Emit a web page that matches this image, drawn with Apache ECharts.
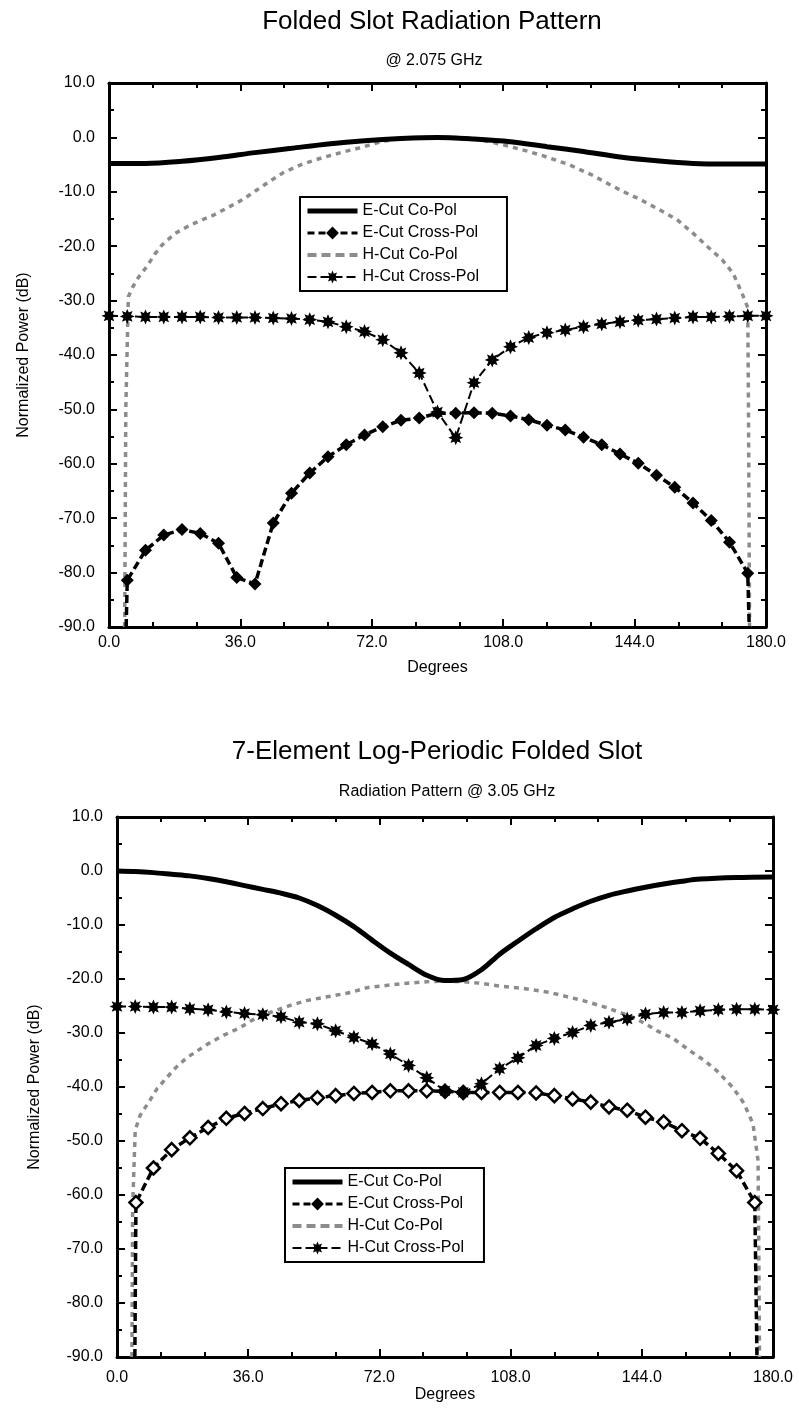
<!DOCTYPE html>
<html>
<head>
<meta charset="utf-8">
<title>Folded Slot Radiation Pattern</title>
<script src="https://cdn.jsdelivr.net/npm/echarts@6/dist/echarts.min.js"></script>
<style>
  html, body { margin: 0; padding: 0; background: #fff; }
  #main { width: 799px; height: 1408px; }
</style>
</head>
<body>
<div id="main"></div>
<script>
var seriesNames = ['E-Cut Co-Pol', 'E-Cut Cross-Pol', 'H-Cut Co-Pol', 'H-Cut Cross-Pol'];
var degTicks = [0, 36, 72, 108, 144, 180];
var dbTicks = [-90, -80, -70, -60, -50, -40, -30, -20, -10, 0, 10];

// top chart, @ 2.075 GHz  ([degrees, dB])
var eCo1 = [[0,-4.8],[10,-4.8],[20,-4.4],[30,-3.7],[40,-2.8],[50,-2],[60,-1.2],[70,-0.6],[80,-0.2],[90,0],
  [100,-0.3],[110,-0.8],[120,-1.7],[130,-2.6],[140,-3.6],[150,-4.3],[160,-4.8],[170,-4.9],[180,-4.9]];
var eX1 = [[4.7,-90],[5,-81.4],[10,-75.9],[15,-73.1],[20,-72.1],[25,-72.8],[30,-74.6],[35,-80.9],[40,-82.1],
  [45,-70.9],[50,-65.4],[55,-61.7],[60,-58.7],[65,-56.5],[70,-54.7],[75,-53.2],[80,-52],[85,-51.6],[90,-50.7],
  [95,-50.7],[100,-50.6],[105,-50.7],[110,-51.2],[115,-51.9],[120,-52.9],[125,-53.8],[130,-55.1],[135,-56.5],
  [140,-58.2],[145,-59.9],[150,-62.1],[155,-64.3],[160,-67.2],[165,-70.4],[170,-74.4],[175,-80.1],[175.4,-90]];
var hCo1 = [[4.3,-90],[4.6,-50],[5.3,-29.3],[6.5,-27.5],[8,-25.8],[10.4,-23.7],[12.5,-21.5],[14.5,-19.8],
  [18,-17.7],[22,-16.2],[25,-15.3],[28.6,-14.3],[32,-13.1],[36.7,-11.4],[40,-9.9],[44,-8.1],[47.7,-6.5],[53,-4.9],
  [58.6,-3.7],[64,-2.7],[68.8,-1.9],[74,-0.9],[79,-0.2],[85,0],[90,0],[95,0],[100,-0.3],[105,-0.9],[110,-1.7],
  [115,-2.6],[119,-3.4],[126,-5],[132.6,-7],[137,-8.6],[141,-10],[145.5,-11.4],[150,-13],[155.6,-15.1],
  [160,-17.6],[164,-20.1],[168,-22.5],[171,-25],[173.4,-28.6],[175,-31.3],[175.2,-50],[175.5,-90]];
var hX1 = [[0,-32.8],[5,-32.9],[10,-33],[15,-33],[20,-33],[25,-33],[30,-33.1],[35,-33.1],[40,-33.1],[45,-33.2],
  [50,-33.3],[55,-33.5],[60,-33.9],[65,-34.8],[70,-35.7],[75,-37.2],[80,-39.6],[85,-43.3],[90,-50.5],[95,-55.2],
  [100,-45.1],[105,-40.9],[110,-38.5],[115,-36.8],[120,-35.9],[125,-35.4],[130,-34.8],[135,-34.3],[140,-33.9],
  [145,-33.6],[150,-33.4],[155,-33.2],[160,-33],[165,-33],[170,-32.9],[175,-32.8],[180,-32.8]];

// bottom chart, Radiation Pattern @ 3.05 GHz
var eCo2 = [[0,0],[5,-0.1],[10,-0.3],[15,-0.6],[20,-0.9],[25,-1.4],[30,-2],[35,-2.7],[40,-3.4],[45,-4.1],
  [50,-5],[55,-6.4],[60,-8.2],[65,-10.3],[70,-12.8],[75,-15.2],[80,-17.3],[85,-19.3],[90,-20.3],[95,-20.1],
  [100,-18.3],[105,-15.4],[110,-13],[115,-10.7],[120,-8.6],[125,-7],[130,-5.6],[135,-4.5],[140,-3.7],
  [145,-3],[150,-2.4],[155,-1.9],[160,-1.5],[170,-1.2],[180,-1.1]];
var eX2 = [[4.9,-90],[5.2,-61.4],[10,-55],[15,-51.6],[20,-49.4],[25,-47.5],[30,-45.8],[35,-44.9],[40,-44],
  [45,-43.1],[50,-42.5],[55,-42],[60,-41.6],[65,-41.2],[70,-41],[75,-40.7],[80,-40.7],[85,-40.7],[90,-40.8],
  [95,-41],[100,-41],[105,-41],[110,-41],[115,-41.1],[120,-41.6],[125,-42.2],[130,-42.8],[135,-43.7],
  [140,-44.3],[145,-45.6],[150,-46.5],[155,-48.1],[160,-49.5],[165,-52.3],[170,-55.5],[175,-61.4],[175.6,-90]];
var hCo2 = [[4.1,-90],[4.3,-62],[5,-48],[6.3,-45.3],[9,-42.5],[11,-40.3],[13.6,-38.3],[16,-36.5],[19.1,-34.6],
  [25,-32],[29,-30.5],[33.8,-29],[38.4,-27.1],[42,-26.2],[47.5,-24.9],[52,-24],[59.3,-23.1],[64,-22.5],
  [68.6,-21.6],[77.7,-20.9],[85,-20.5],[90,-20.4],[95,-20.5],[100,-20.8],[105,-21.3],[112,-21.8],[118.8,-22.5],
  [123,-23.2],[127.9,-24],[134.4,-25.3],[141.6,-27.1],[145,-28.3],[148.2,-29.6],[152.6,-31],[157.2,-33.3],
  [161,-35],[164.6,-37],[169,-40.1],[172,-43],[174.5,-46.8],[175.9,-53.6],[176.1,-70],[176.3,-90]];
var hX2 = [[0,-25.1],[5,-25.1],[10,-25.2],[15,-25.2],[20,-25.5],[25,-25.7],[30,-26.1],[35,-26.4],[40,-26.6],
  [45,-27],[50,-28],[55,-28.3],[60,-29.6],[65,-30.8],[70,-32],[75,-33.9],[80,-36],[85,-38.3],[90,-40.7],
  [95,-41],[100,-39.4],[105,-36.6],[110,-34.6],[115,-32.3],[120,-31],[125,-29.9],[130,-28.6],[135,-28],
  [140,-27.4],[145,-26.5],[150,-26.2],[155,-26.2],[160,-25.9],[165,-25.7],[170,-25.6],[175,-25.6],[180,-25.7]];

var font = '"Liberation Sans", Arial, sans-serif';
var hGray = '#8c8c8c';

// eight point star used for the H-Cut Cross-Pol marks
function starPath() {
  var pts = [];
  for (var i = 0; i < 16; i++) {
    var a = i * Math.PI / 8;
    var r = i % 2 ? 0.55 : 1;
    pts.push((50 + 50 * r * Math.sin(a)).toFixed(1) + ' ' + (50 - 50 * r * Math.cos(a)).toFixed(1));
  }
  return 'path://M' + pts.join(' L') + ' Z';
}
var star = starPath();

// no mark where a trace runs off the bottom of the plot
function pts(list) {
  return list.map(function (p) {
    return p[1] <= -89 ? { value: p, symbol: 'none' } : p;
  });
}

function xAxisFor(grid, top) {
  return {
    type: 'value', gridIndex: grid, position: top ? 'top' : 'bottom',
    min: degTicks[0], max: degTicks[degTicks.length - 1], interval: degTicks[1] - degTicks[0],
    name: top ? '' : 'Degrees', nameLocation: 'middle', nameGap: grid === 0 ? 33 : 28,
    nameTextStyle: { fontFamily: font, fontSize: 16, color: '#000' },
    axisLine: { show: true, onZero: false, lineStyle: { color: '#000', width: 3 } },
    axisTick: { show: true, inside: true, length: 8, lineStyle: { color: '#000', width: 2 } },
    minorTick: { show: true, splitNumber: 3, length: 5, lineStyle: { color: '#000', width: 2 } },
    axisLabel: { show: !top, margin: grid === 0 ? 8 : 13, fontFamily: font, fontSize: 16, color: '#000',
      formatter: function (v) { return v.toFixed(1); } },
    splitLine: { show: false }
  };
}

function yAxisFor(grid, right) {
  return {
    type: 'value', gridIndex: grid, position: right ? 'right' : 'left',
    min: dbTicks[0], max: dbTicks[dbTicks.length - 1], interval: dbTicks[1] - dbTicks[0],
    name: right ? '' : 'Normalized Power (dB)', nameLocation: 'middle', nameGap: grid === 0 ? 77 : 74,
    nameTextStyle: { fontFamily: font, fontSize: 16, color: '#000' },
    axisLine: { show: true, onZero: false, lineStyle: { color: '#000', width: 3 } },
    axisTick: { show: true, inside: true, length: 8, lineStyle: { color: '#000', width: 2 } },
    minorTick: { show: true, splitNumber: 2, length: 5, lineStyle: { color: '#000', width: 2 } },
    axisLabel: { show: !right, margin: 14, fontFamily: font, fontSize: 16, color: '#000',
      formatter: function (v) { return v.toFixed(1); } },
    splitLine: { show: false }
  };
}

function chartSeries(idx, eCo, eX, hCo, hX, hollow) {
  return [
    {
      name: seriesNames[0], type: 'line', xAxisIndex: idx, yAxisIndex: idx,
      data: eCo, symbol: 'none', smooth: 0.3,
      itemStyle: { color: '#000' },
      lineStyle: { color: '#000', width: 5 }, z: 3
    },
    {
      name: seriesNames[1], type: 'line', xAxisIndex: idx, yAxisIndex: idx,
      data: pts(eX), symbol: 'diamond', symbolSize: 13, showAllSymbol: true,
      itemStyle: hollow ? { color: '#fff', borderColor: '#000', borderWidth: 2.5 } : { color: '#000' },
      lineStyle: { color: '#000', width: 3.5, type: [8, 4] }, z: 4
    },
    {
      name: seriesNames[2], type: 'line', xAxisIndex: idx, yAxisIndex: idx,
      data: hCo, symbol: 'none',
      itemStyle: { color: hGray },
      lineStyle: { color: hGray, width: 3.5, type: [5, 5] }, z: 2
    },
    {
      name: seriesNames[3], type: 'line', xAxisIndex: idx, yAxisIndex: idx,
      data: pts(hX), symbol: star, symbolSize: 15, showAllSymbol: true,
      itemStyle: { color: '#000' },
      lineStyle: { color: '#000', width: 2, type: [9, 4] }, z: 5
    }
  ];
}

function legendFor(left, top, padRight) {
  return {
    data: [
      { name: seriesNames[0], icon: 'path://M0 0H50V5H0Z' },
      { name: seriesNames[1], lineStyle: { width: 3, type: [7, 4] } },
      { name: seriesNames[2], icon: 'path://M0 0H9V4H0Z M14 0H23V4H14Z M28 0H37V4H28Z M42 0H50V4H42Z',
        itemStyle: { borderWidth: 0 } },
      { name: seriesNames[3] }
    ],
    orient: 'vertical', left: left, top: top,
    backgroundColor: '#fff', borderColor: '#000', borderWidth: 2, borderRadius: 0,
    padding: [6, padRight, 6, 6], itemGap: 6, itemWidth: 50, itemHeight: 16,
    selectedMode: false,
    textStyle: { fontFamily: font, fontSize: 16, color: '#000' }
  };
}

var myChart = echarts.init(document.getElementById('main'), null, { renderer: 'canvas' });

var option = {
  backgroundColor: '#fff',
  animation: false,
  title: [
    { text: 'Folded Slot Radiation Pattern', left: 432, top: 9, padding: 0, textAlign: 'center',
      textStyle: { fontFamily: font, fontSize: 26, fontWeight: 'normal', color: '#000' } },
    { text: '@ 2.075 GHz', left: 434, top: 53, padding: 0, textAlign: 'center',
      textStyle: { fontFamily: font, fontSize: 16, fontWeight: 'normal', color: '#000' } },
    { text: '7-Element Log-Periodic Folded Slot', left: 437, top: 739, padding: 0, textAlign: 'center',
      textStyle: { fontFamily: font, fontSize: 26, fontWeight: 'normal', color: '#000' } },
    { text: 'Radiation Pattern @ 3.05 GHz', left: 447, top: 784, padding: 0, textAlign: 'center',
      textStyle: { fontFamily: font, fontSize: 16, fontWeight: 'normal', color: '#000' } }
  ],
  legend: [legendFor(300, 197, 28), legendFor(285, 1168, 20)],
  grid: [
    { left: 109, top: 83, width: 657, height: 544, containLabel: false },
    { left: 117, top: 817, width: 656, height: 540, containLabel: false }
  ],
  xAxis: [xAxisFor(0, false), xAxisFor(1, false), xAxisFor(0, true), xAxisFor(1, true)],
  yAxis: [yAxisFor(0, false), yAxisFor(1, false), yAxisFor(0, true), yAxisFor(1, true)],
  series: chartSeries(0, eCo1, eX1, hCo1, hX1, false).concat(chartSeries(1, eCo2, eX2, hCo2, hX2, true))
};

myChart.setOption(option);
</script>
</body>
</html>
